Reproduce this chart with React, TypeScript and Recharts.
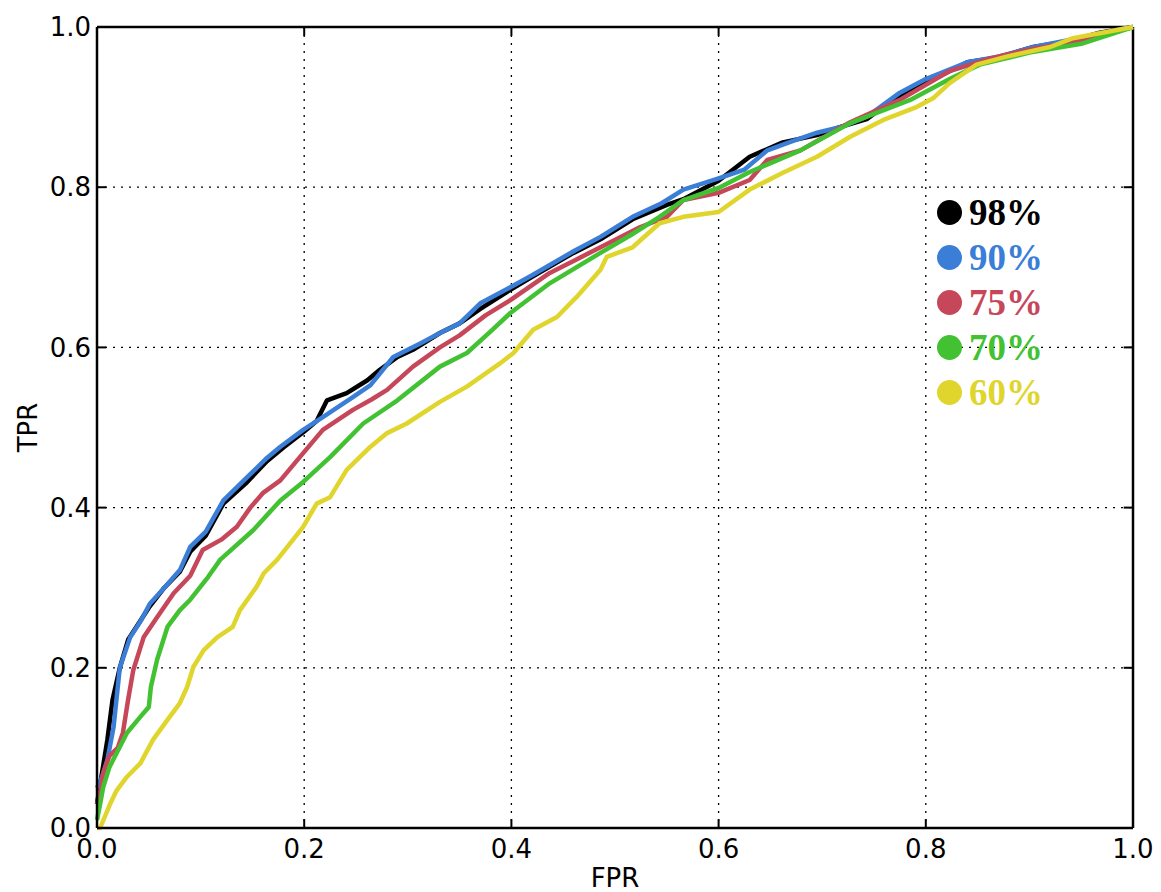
import {
  LineChart,
  Line,
  XAxis,
  YAxis,
  CartesianGrid,
  ReferenceLine,
  Legend,
} from 'recharts'

// ROC curves, [fpr, tpr]
const roc98 = [
  [0, 0.03], [0.005, 0.07], [0.01, 0.11], [0.015, 0.16], [0.022, 0.2],
  [0.03, 0.235], [0.04, 0.255], [0.05, 0.275], [0.065, 0.3], [0.08, 0.32],
  [0.09, 0.345], [0.105, 0.365], [0.122, 0.405], [0.145, 0.432], [0.164, 0.458],
  [0.18, 0.475], [0.2, 0.495], [0.212, 0.508], [0.222, 0.534], [0.241, 0.543],
  [0.261, 0.559], [0.273, 0.572], [0.29, 0.588], [0.305, 0.597], [0.331, 0.618],
  [0.35, 0.63], [0.37, 0.648], [0.399, 0.672], [0.42, 0.688], [0.44, 0.703],
  [0.46, 0.718], [0.486, 0.735], [0.517, 0.76], [0.55, 0.778], [0.566, 0.785],
  [0.6, 0.808], [0.63, 0.838], [0.662, 0.856], [0.695, 0.865], [0.717, 0.875],
  [0.743, 0.885], [0.768, 0.909], [0.8, 0.93], [0.84, 0.956], [0.87, 0.962],
  [0.904, 0.975], [0.94, 0.983], [0.968, 0.993], [1, 1],
]

const roc90 = [
  [0, 0.05], [0.005, 0.064], [0.01, 0.085], [0.016, 0.126], [0.022, 0.2],
  [0.032, 0.238], [0.042, 0.258], [0.051, 0.28], [0.065, 0.3], [0.08, 0.322],
  [0.09, 0.351], [0.105, 0.37], [0.122, 0.409], [0.145, 0.438], [0.164, 0.462],
  [0.177, 0.476], [0.199, 0.497], [0.218, 0.513], [0.247, 0.538], [0.264, 0.553],
  [0.286, 0.588], [0.312, 0.605], [0.331, 0.618], [0.35, 0.63], [0.37, 0.655],
  [0.399, 0.675], [0.42, 0.69], [0.44, 0.705], [0.46, 0.72], [0.486, 0.738],
  [0.517, 0.763], [0.545, 0.78], [0.566, 0.797], [0.6, 0.811], [0.625, 0.822],
  [0.647, 0.846], [0.67, 0.857], [0.695, 0.868], [0.72, 0.876], [0.743, 0.888],
  [0.775, 0.918], [0.8, 0.935], [0.84, 0.956], [0.87, 0.963], [0.904, 0.975],
  [0.94, 0.984], [0.968, 0.992], [1, 1],
]

const roc75 = [
  [0, 0.03], [0.003, 0.044], [0.006, 0.069], [0.012, 0.09], [0.02, 0.1],
  [0.025, 0.119], [0.03, 0.16], [0.035, 0.197], [0.045, 0.238], [0.058, 0.263],
  [0.074, 0.293], [0.09, 0.315], [0.102, 0.347], [0.12, 0.36], [0.135, 0.376],
  [0.148, 0.4], [0.16, 0.418], [0.177, 0.434], [0.199, 0.468], [0.218, 0.497],
  [0.247, 0.522], [0.265, 0.535], [0.28, 0.547], [0.305, 0.576], [0.331, 0.6],
  [0.35, 0.615], [0.375, 0.64], [0.399, 0.659], [0.437, 0.693], [0.46, 0.708],
  [0.486, 0.725], [0.524, 0.75], [0.55, 0.763], [0.566, 0.784], [0.6, 0.793],
  [0.63, 0.809], [0.647, 0.834], [0.679, 0.846], [0.727, 0.881], [0.775, 0.909],
  [0.823, 0.945], [0.86, 0.96], [0.904, 0.973], [0.95, 0.983], [1, 1],
]

const roc70 = [
  [0, 0.01], [0.003, 0.03], [0.006, 0.051], [0.012, 0.076], [0.029, 0.119],
  [0.042, 0.139], [0.05, 0.151], [0.052, 0.176], [0.058, 0.21], [0.068, 0.251],
  [0.08, 0.272], [0.09, 0.285], [0.107, 0.313], [0.119, 0.335], [0.151, 0.372],
  [0.177, 0.409], [0.199, 0.432], [0.225, 0.463], [0.257, 0.505], [0.29, 0.534],
  [0.331, 0.576], [0.357, 0.593], [0.38, 0.62], [0.399, 0.643], [0.437, 0.68],
  [0.486, 0.718], [0.515, 0.74], [0.543, 0.763], [0.566, 0.784], [0.6, 0.799],
  [0.63, 0.819], [0.679, 0.846], [0.727, 0.88], [0.785, 0.909], [0.823, 0.935],
  [0.852, 0.953], [0.9, 0.968], [0.95, 0.979], [1, 1],
]

const roc60 = [
  [0, 0], [0.003, 0], [0.013, 0.031], [0.019, 0.047], [0.029, 0.064],
  [0.042, 0.081], [0.054, 0.11], [0.068, 0.135], [0.08, 0.156], [0.087, 0.176],
  [0.093, 0.201], [0.103, 0.222], [0.116, 0.238], [0.131, 0.251], [0.138, 0.272],
  [0.154, 0.301], [0.161, 0.318], [0.174, 0.335], [0.199, 0.376], [0.212, 0.405],
  [0.225, 0.413], [0.241, 0.447], [0.264, 0.476], [0.28, 0.493], [0.299, 0.505],
  [0.331, 0.532], [0.357, 0.551], [0.389, 0.58], [0.402, 0.593], [0.421, 0.622],
  [0.444, 0.638], [0.463, 0.663], [0.486, 0.697], [0.492, 0.713], [0.517, 0.725],
  [0.543, 0.755], [0.566, 0.763], [0.6, 0.769], [0.63, 0.797], [0.662, 0.818],
  [0.695, 0.838], [0.727, 0.863], [0.759, 0.884], [0.791, 0.9], [0.807, 0.911],
  [0.823, 0.93], [0.849, 0.953], [0.878, 0.963], [0.92, 0.975], [0.942, 0.986],
  [1, 1],
]

const ticks = [0, 0.2, 0.4, 0.6, 0.8, 1]
const innerTicks = [0.2, 0.4, 0.6, 0.8]

const series = [
  { name: '98%', color: '#000000', points: roc98 },
  { name: '90%', color: '#3a7ed8', points: roc90 },
  { name: '75%', color: '#c6475a', points: roc75 },
  { name: '70%', color: '#42c232', points: roc70 },
  { name: '60%', color: '#e0d52c', points: roc60 },
]

const toRows = (pts) => pts.map(([fpr, tpr]) => ({ fpr, tpr }))

const tickFont = { fill: '#000', fontSize: 26, fontFamily: 'DejaVu Sans' }

const LegendBox = () => (
  <div>
    {series.map((s) => (
      <div
        key={s.name}
        style={{ display: 'flex', alignItems: 'center', height: 45 }}
      >
        <span
          style={{
            width: 25,
            height: 25,
            borderRadius: '50%',
            background: s.color,
            display: 'inline-block',
            marginRight: 7,
          }}
        />
        <span
          style={{
            color: s.color,
            fontFamily: 'Liberation Serif',
            fontWeight: 'bold',
            fontSize: 37,
            lineHeight: '45px',
          }}
        >
          {s.name}
        </span>
      </div>
    ))}
  </div>
)

const fmt = (v) => v.toFixed(1)

export default function App() {
  return (
    <LineChart
      width={1145}
      height={884}
      margin={{ top: 19, right: 20, bottom: 0, left: 0 }}
    >
      <CartesianGrid
        stroke="#000"
        strokeWidth={1.3}
        strokeDasharray="2 6"
        horizontalValues={innerTicks}
        verticalValues={innerTicks}
      />
      <XAxis
        type="number"
        dataKey="fpr"
        domain={[0, 1]}
        ticks={ticks}
        tickFormatter={fmt}
        tick={tickFont}
        tickLine={false}
        tickSize={0}
        tickMargin={12}
        axisLine={{ stroke: '#000', strokeWidth: 2.5 }}
        height={64}
        allowDuplicatedCategory={false}
        label={{
          value: 'FPR',
          position: 'insideBottom',
          offset: 5,
          style: { fill: '#000', fontSize: 26, fontFamily: 'DejaVu Sans' },
        }}
      />
      <YAxis
        type="number"
        dataKey="tpr"
        domain={[0, 1]}
        ticks={ticks}
        tickFormatter={fmt}
        tick={tickFont}
        tickLine={false}
        tickSize={0}
        tickMargin={6}
        axisLine={{ stroke: '#000', strokeWidth: 2.5 }}
        width={89}
        label={{
          value: 'TPR',
          angle: -90,
          position: 'insideLeft',
          offset: 20,
          style: {
            fill: '#000',
            fontSize: 26,
            fontFamily: 'DejaVu Sans',
            textAnchor: 'middle',
          },
        }}
      />
      <ReferenceLine y={1} stroke="#000" strokeWidth={2.5} />
      <ReferenceLine x={1} stroke="#000" strokeWidth={2.5} />
      {innerTicks.map((t) => (
        <ReferenceLine
          key={`bx${t}`}
          segment={[{ x: t, y: 0 }, { x: t, y: 0.011 }]}
          stroke="#000"
          strokeWidth={2}
        />
      ))}
      {innerTicks.map((t) => (
        <ReferenceLine
          key={`tx${t}`}
          segment={[{ x: t, y: 1 }, { x: t, y: 0.989 }]}
          stroke="#000"
          strokeWidth={2}
        />
      ))}
      {innerTicks.map((t) => (
        <ReferenceLine
          key={`ly${t}`}
          segment={[{ x: 0, y: t }, { x: 0.009, y: t }]}
          stroke="#000"
          strokeWidth={2}
        />
      ))}
      {innerTicks.map((t) => (
        <ReferenceLine
          key={`ry${t}`}
          segment={[{ x: 1, y: t }, { x: 0.991, y: t }]}
          stroke="#000"
          strokeWidth={2}
        />
      ))}
      {series.map((s) => (
        <Line
          key={s.name}
          data={toRows(s.points)}
          dataKey="tpr"
          name={s.name}
          type="linear"
          stroke={s.color}
          strokeWidth={4.5}
          strokeLinejoin="round"
          dot={false}
          activeDot={false}
          isAnimationActive={false}
        />
      ))}
      <Legend
        layout="vertical"
        align="center"
        verticalAlign="middle"
        content={<LegendBox />}
        wrapperStyle={{ position: 'absolute', left: 929, top: 182, width: 140 }}
      />
    </LineChart>
  )
}
